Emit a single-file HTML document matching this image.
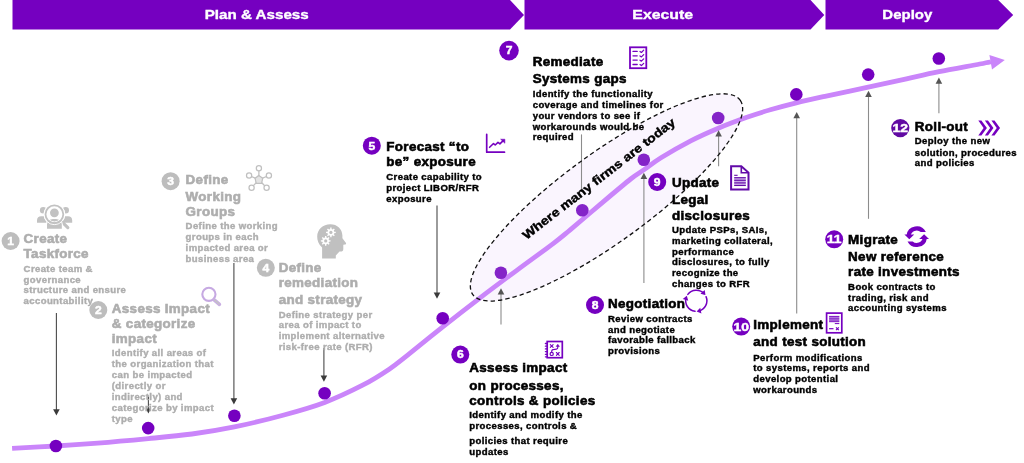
<!DOCTYPE html>
<html lang="en"><head><meta charset="utf-8"><title>LIBOR transition roadmap</title>
<style>
html,body{margin:0;padding:0;background:#fff;}
body{width:1024px;height:463px;overflow:hidden;}
svg{display:block;}
text{font-family:"Liberation Sans",sans-serif;font-weight:bold;}
.bn{font-size:13.2px;fill:#fff;stroke:#fff;stroke-width:.35px;}
.nm{fill:#fff;stroke:#fff;stroke-width:.45px;}
.t{letter-spacing:.31px;font-size:12.6px;stroke-width:.58px;}
.tb{fill:#000;stroke:#000;}
.tg{fill:#AEAEAE;stroke:#AEAEAE;}
.d{letter-spacing:.35px;font-size:8.7px;stroke-width:.38px;}
.db{fill:#000;stroke:#000;}
.dg{fill:#AEAEAE;stroke:#AEAEAE;}
.wh{font-size:12.1px;fill:#000;stroke:#000;stroke-width:.4px;}
</style></head><body>
<svg style="will-change:transform" width="1024" height="463" viewBox="0 0 1024 463">
<polygon points="12.5,0 510,0 524,14.9 510,29.6 12.5,29.6" fill="#7500C0"/>
<polygon points="524.5,0 810.5,0 824.3,14.9 810.5,29.6 524.5,29.6" fill="#7500C0"/>
<polygon points="825.5,0 998.2,0 1013.2,15 998.2,29.6 825.5,29.6" fill="#7500C0"/>
<text class="bn" transform="translate(256.7,19.2) scale(1.15,1)" text-anchor="middle">Plan &amp; Assess</text>
<text class="bn" transform="translate(662.7,19.2) scale(1.2,1)" text-anchor="middle">Execute</text>
<text class="bn" transform="translate(907.3,19.2) scale(1.135,1)" text-anchor="middle">Deploy</text>
<ellipse cx="606.5" cy="197.4" rx="165.3" ry="44.2" transform="rotate(-36.05 606.5 197.4)" fill="#FAF5FE"/>
<path d="M12.1,448.4 C19.4,448.0 41.6,446.9 55.9,446 C70.2,445.1 82.3,444.3 97.7,443.1 C113.1,441.9 132.7,440.1 148.4,438.6 C164.1,437.1 177.7,435.9 192,434.0 C206.3,432.1 219.2,430.0 234.4,426.9 C249.6,423.8 267.9,419.3 283,415.2 C298.1,411.1 311.4,407.4 324.7,402.4 C338.0,397.4 351.9,390.7 362.6,385.2 C373.4,379.7 381.9,374.1 389.2,369.2 C396.5,364.3 397.7,362.9 406.7,355.8 C415.7,348.7 431.2,336.1 443.4,326.4 C455.6,316.7 467.9,307.1 480.1,297.8 C492.3,288.5 504.6,279.4 516.8,270.3 C529.0,261.2 544.6,250.1 553.5,243.3 C562.4,236.6 562.4,236.3 570.2,229.8 C578.0,223.3 590.4,212.6 600.5,204.1 C610.6,195.6 623.5,184.7 630.7,179 C637.9,173.3 638.8,173.4 643.8,169.9 C648.8,166.4 653.1,162.7 661,157.8 C668.9,152.9 681.7,145.5 691.2,140.6 C700.8,135.7 709.0,132.1 718.3,128.2 C727.6,124.3 738.2,120.4 746.9,117.3 C755.6,114.2 762.1,112.2 770.3,109.8 C778.5,107.4 787.2,105.0 796.3,102.8 C805.4,100.5 813.0,98.9 825,96.3 C837.0,93.7 854.6,90.1 868.2,87.2 C881.8,84.3 894.7,81.4 906.5,78.8 C918.3,76.2 926.8,74.2 939,71.7 C951.2,69.2 971.0,65.7 979.7,64 C988.4,62.4 989.1,62.2 991,61.8" fill="none" stroke="#CA85FA" stroke-width="4.8" stroke-linecap="butt"/>
<polygon points="989.4,54.9 1004.8,59.9 992,69.4" fill="#CA85FA"/>
<line x1="581.5" y1="134.4" x2="581.5" y2="192" stroke="#8c8c8c" stroke-width="1.1"/>
<line x1="56.4" y1="313" x2="56.4" y2="410.5" stroke="#4a4a4a" stroke-width="1.1"/>
<polygon points="53.1,409.2 59.699999999999996,409.2 56.4,415.5" fill="#3a3a3a"/>
<line x1="148.4" y1="396.6" x2="148.4" y2="409.4" stroke="#4a4a4a" stroke-width="1.1"/>
<polygon points="145.9,408.4 150.9,408.4 148.4,413.6" fill="#3a3a3a"/>
<line x1="233.9" y1="263" x2="233.9" y2="399.5" stroke="#4a4a4a" stroke-width="1.1"/>
<polygon points="230.6,398.2 237.20000000000002,398.2 233.9,404.5" fill="#3a3a3a"/>
<line x1="323.9" y1="348" x2="323.9" y2="376.7" stroke="#4a4a4a" stroke-width="1.1"/>
<polygon points="320.59999999999997,375.4 327.2,375.4 323.9,381.7" fill="#3a3a3a"/>
<line x1="437" y1="205.6" x2="437" y2="293.7" stroke="#4a4a4a" stroke-width="1.1"/>
<polygon points="433.7,292.4 440.3,292.4 437,298.7" fill="#3a3a3a"/>
<line x1="501" y1="324.6" x2="501" y2="293.2" stroke="#8c8c8c" stroke-width="1.1"/>
<polygon points="497.7,294.5 504.3,294.5 501,288.2" fill="#555"/>
<line x1="643.9" y1="283" x2="643.9" y2="177.8" stroke="#8c8c8c" stroke-width="1.1"/>
<polygon points="640.6,179.1 647.1999999999999,179.1 643.9,172.8" fill="#555"/>
<line x1="718.6" y1="166.3" x2="718.6" y2="135.3" stroke="#8c8c8c" stroke-width="1.1"/>
<polygon points="715.3000000000001,136.6 721.9,136.6 718.6,130.3" fill="#555"/>
<line x1="796.7" y1="313.6" x2="796.7" y2="117.0" stroke="#8c8c8c" stroke-width="1.1"/>
<polygon points="793.4000000000001,118.3 800.0,118.3 796.7,112" fill="#555"/>
<line x1="868.5" y1="218.8" x2="868.5" y2="95.8" stroke="#8c8c8c" stroke-width="1.1"/>
<polygon points="865.2,97.1 871.8,97.1 868.5,90.8" fill="#555"/>
<line x1="938.9" y1="113.3" x2="938.9" y2="82.5" stroke="#8c8c8c" stroke-width="1.1"/>
<polygon points="935.6,83.8 942.1999999999999,83.8 938.9,77.5" fill="#555"/>
<circle cx="55.9" cy="446" r="6.3" fill="#7500C0"/>
<circle cx="148.2" cy="428.1" r="6.3" fill="#7500C0"/>
<circle cx="234.4" cy="415.7" r="6.3" fill="#7500C0"/>
<circle cx="324.6" cy="393.3" r="6.3" fill="#7500C0"/>
<circle cx="442.7" cy="318.2" r="6.3" fill="#7500C0"/>
<circle cx="500.9" cy="272.8" r="6.3" fill="#8424C8"/>
<circle cx="582.3" cy="210.2" r="6.3" fill="#8424C8"/>
<circle cx="643.8" cy="159.7" r="6.3" fill="#8424C8"/>
<circle cx="718.2" cy="118" r="6.3" fill="#8424C8"/>
<circle cx="796.3" cy="94.4" r="6.3" fill="#7500C0"/>
<circle cx="868.2" cy="74.6" r="6.3" fill="#7500C0"/>
<circle cx="938.8" cy="58.5" r="6.3" fill="#7500C0"/>
<ellipse cx="606.5" cy="197.4" rx="165.3" ry="44.2" transform="rotate(-36.05 606.5 197.4)" fill="none" stroke="#111" stroke-width="1.3" stroke-dasharray="4.4 3"/>
<text class="wh" transform="translate(526.5,240) rotate(-37.8) scale(1.17,1)">Where many firms are today</text>
<circle cx="10.6" cy="241" r="9.0" fill="#BDBDBD"/>
<text class="nm" transform="translate(10.6,244.8) scale(1.12,1)" text-anchor="middle" font-size="10.8">1</text>
<text class="t tg" transform="translate(23.6,243.4) scale(1.065,1)">Create</text>
<text class="t tg" transform="translate(23.6,258) scale(1.065,1)">Taskforce</text>
<text class="d dg" transform="translate(23.6,271.8) scale(1.1,1)">Create team &amp;</text>
<text class="d dg" transform="translate(23.6,282.6) scale(1.1,1)">governance</text>
<text class="d dg" transform="translate(23.6,292.8) scale(1.1,1)">structure and ensure</text>
<text class="d dg" transform="translate(23.6,303.6) scale(1.1,1)">accountability</text>
<circle cx="98.3" cy="310.0" r="9.0" fill="#BDBDBD"/>
<text class="nm" transform="translate(98.3,313.8) scale(1.12,1)" text-anchor="middle" font-size="10.8">2</text>
<text class="t tg" transform="translate(111.8,313) scale(1.065,1)">Assess Impact</text>
<text class="t tg" transform="translate(111.8,328) scale(1.065,1)">&amp; categorize</text>
<text class="t tg" transform="translate(111.8,342.6) scale(1.065,1)">impact</text>
<text class="d dg" transform="translate(111.8,356.2) scale(1.1,1)">Identify all areas of</text>
<text class="d dg" transform="translate(111.8,367.3) scale(1.1,1)">the organization that</text>
<text class="d dg" transform="translate(111.8,378.3) scale(1.1,1)">can be impacted</text>
<text class="d dg" transform="translate(111.8,389.3) scale(1.1,1)">(directly or</text>
<text class="d dg" transform="translate(111.8,400.2) scale(1.1,1)">indirectly) and</text>
<text class="d dg" transform="translate(111.8,411) scale(1.1,1)">categorize by impact</text>
<text class="d dg" transform="translate(111.8,422) scale(1.1,1)">type</text>
<circle cx="170.6" cy="181.2" r="9.0" fill="#BDBDBD"/>
<text class="nm" transform="translate(170.6,185.0) scale(1.12,1)" text-anchor="middle" font-size="10.8">3</text>
<text class="t tg" transform="translate(185.6,184) scale(1.065,1)">Define</text>
<text class="t tg" transform="translate(185.6,201.2) scale(1.065,1)">Working</text>
<text class="t tg" transform="translate(185.6,215.6) scale(1.065,1)">Groups</text>
<text class="d dg" transform="translate(185.6,229.3) scale(1.1,1)">Define the working</text>
<text class="d dg" transform="translate(185.6,240.2) scale(1.1,1)">groups in each</text>
<text class="d dg" transform="translate(185.6,250.9) scale(1.1,1)">impacted area or</text>
<text class="d dg" transform="translate(185.6,261.5) scale(1.1,1)">business area</text>
<circle cx="265.8" cy="267.8" r="9.0" fill="#BDBDBD"/>
<text class="nm" transform="translate(265.8,271.6) scale(1.12,1)" text-anchor="middle" font-size="10.8">4</text>
<text class="t tg" transform="translate(278.7,271.6) scale(1.065,1)">Define</text>
<text class="t tg" transform="translate(278.7,287.2) scale(1.065,1)">remediation</text>
<text class="t tg" transform="translate(278.7,304.2) scale(1.065,1)">and strategy</text>
<text class="d dg" transform="translate(278.7,317.8) scale(1.1,1)">Define strategy per</text>
<text class="d dg" transform="translate(278.7,328.3) scale(1.1,1)">area of impact to</text>
<text class="d dg" transform="translate(278.7,339.1) scale(1.1,1)">implement alternative</text>
<text class="d dg" transform="translate(278.7,349.9) scale(1.1,1)">risk-free rate (RFR)</text>
<circle cx="371.8" cy="145.7" r="9.0" fill="#7500C0"/>
<text class="nm" transform="translate(371.8,149.5) scale(1.12,1)" text-anchor="middle" font-size="10.8">5</text>
<text class="t tb" transform="translate(386.3,150.9) scale(1.065,1)">Forecast “to</text>
<text class="t tb" transform="translate(386.3,166.4) scale(1.065,1)">be” exposure</text>
<text class="d db" transform="translate(386.3,179.6) scale(1.1,1)">Create capability to</text>
<text class="d db" transform="translate(386.3,190.5) scale(1.1,1)">project LIBOR/RFR</text>
<text class="d db" transform="translate(386.3,201.8) scale(1.1,1)">exposure</text>
<circle cx="460.3" cy="354.6" r="9.0" fill="#7500C0"/>
<text class="nm" transform="translate(460.3,358.4) scale(1.12,1)" text-anchor="middle" font-size="10.8">6</text>
<text class="t tb" transform="translate(469.3,372.3) scale(1.065,1)">Assess impact</text>
<text class="t tb" transform="translate(469.3,389.6) scale(1.065,1)">on processes,</text>
<text class="t tb" transform="translate(469.3,404.7) scale(1.065,1)">controls &amp; policies</text>
<text class="d db" transform="translate(469.3,417.7) scale(1.1,1)">Identify and modify the</text>
<text class="d db" transform="translate(469.3,428.9) scale(1.1,1)">processes, controls &amp;</text>
<text class="d db" transform="translate(469.3,444) scale(1.1,1)">policies that require</text>
<text class="d db" transform="translate(469.3,455) scale(1.1,1)">updates</text>
<circle cx="509" cy="50.6" r="9.8" fill="#7500C0"/>
<text class="nm" transform="translate(509,54.4) scale(1.12,1)" text-anchor="middle" font-size="10.8">7</text>
<text class="t tb" transform="translate(532.7,65.7) scale(1.065,1)">Remediate</text>
<text class="t tb" transform="translate(532.7,82.6) scale(1.065,1)">Systems gaps</text>
<text class="d db" transform="translate(532.7,97.2) scale(1.1,1)">Identify the functionality</text>
<text class="d db" transform="translate(532.7,107.9) scale(1.1,1)">coverage and timelines for</text>
<text class="d db" transform="translate(532.7,118.7) scale(1.1,1)">your vendors to see if</text>
<text class="d db" transform="translate(532.7,129.5) scale(1.1,1)">workarounds would be</text>
<text class="d db" transform="translate(532.7,140) scale(1.1,1)">required</text>
<circle cx="595" cy="305" r="9.0" fill="#7500C0"/>
<text class="nm" transform="translate(595,308.8) scale(1.12,1)" text-anchor="middle" font-size="10.8">8</text>
<text class="t tb" transform="translate(608,308.3) scale(1.065,1)">Negotiation</text>
<text class="d db" transform="translate(608,322) scale(1.1,1)">Review contracts</text>
<text class="d db" transform="translate(608,332.6) scale(1.1,1)">and negotiate</text>
<text class="d db" transform="translate(608,343.3) scale(1.1,1)">favorable fallback</text>
<text class="d db" transform="translate(608,353.9) scale(1.1,1)">provisions</text>
<circle cx="657.2" cy="182" r="9.0" fill="#7500C0"/>
<text class="nm" transform="translate(657.2,185.8) scale(1.12,1)" text-anchor="middle" font-size="10.8">9</text>
<text class="t tb" transform="translate(672,187.3) scale(1.065,1)">Update</text>
<text class="t tb" transform="translate(672,204.3) scale(1.065,1)">Legal</text>
<text class="t tb" transform="translate(672,220) scale(1.065,1)">disclosures</text>
<text class="d db" transform="translate(672,233.3) scale(1.1,1)">Update PSPs, SAIs,</text>
<text class="d db" transform="translate(672,244) scale(1.1,1)">marketing collateral,</text>
<text class="d db" transform="translate(672,254.6) scale(1.1,1)">performance</text>
<text class="d db" transform="translate(672,265.3) scale(1.1,1)">disclosures, to fully</text>
<text class="d db" transform="translate(672,276) scale(1.1,1)">recognize the</text>
<text class="d db" transform="translate(672,287) scale(1.1,1)">changes to RFR</text>
<circle cx="741.2" cy="326.6" r="9.0" fill="#7500C0"/>
<text class="nm" transform="translate(741.2,330.7) scale(1.2,1)" text-anchor="middle" font-size="11.6">10</text>
<text class="t tb" transform="translate(753.3,328.6) scale(1.065,1)">Implement</text>
<text class="t tb" transform="translate(753.3,345.9) scale(1.065,1)">and test solution</text>
<text class="d db" transform="translate(753.3,360.5) scale(1.1,1)">Perform modifications</text>
<text class="d db" transform="translate(753.3,371.4) scale(1.1,1)">to systems, reports and</text>
<text class="d db" transform="translate(753.3,382.3) scale(1.1,1)">develop potential</text>
<text class="d db" transform="translate(753.3,392.9) scale(1.1,1)">workarounds</text>
<circle cx="834.2" cy="239.3" r="9.0" fill="#7500C0"/>
<text class="nm" transform="translate(834.2,243.4) scale(1.2,1)" text-anchor="middle" font-size="11.6">11</text>
<text class="t tb" transform="translate(848.1,243.7) scale(1.065,1)">Migrate</text>
<text class="t tb" transform="translate(848.1,260.5) scale(1.065,1)">New reference</text>
<text class="t tb" transform="translate(848.1,275.6) scale(1.065,1)">rate investments</text>
<text class="d db" transform="translate(848.1,289.9) scale(1.1,1)">Book contracts to</text>
<text class="d db" transform="translate(848.1,300.5) scale(1.1,1)">trading, risk and</text>
<text class="d db" transform="translate(848.1,311) scale(1.1,1)">accounting systems</text>
<circle cx="900.3" cy="128.1" r="9.1" fill="#610AA3"/>
<text class="nm" transform="translate(900.3,132.2) scale(1.2,1)" text-anchor="middle" font-size="11.6">12</text>
<text class="t tb" transform="translate(914.8,130.8) scale(1.065,1)">Roll-out</text>
<text class="d db" transform="translate(914.8,144.4) scale(1.1,1)">Deploy the new</text>
<text class="d db" transform="translate(914.8,155.5) scale(1.1,1)">solution, procedures</text>
<text class="d db" transform="translate(914.8,166.2) scale(1.1,1)">and policies</text>
<g fill="#C2C2C2">
<circle cx="43.2" cy="210.2" r="3.3"/><path d="M37,222.7 v-2.5 a4.2,4.2 0 0 1 4.2,-4 h3 a4,4 0 0 1 2.5,1 v5.5z"/>
<circle cx="65.7" cy="210.2" r="3.3"/><path d="M72.2,222.7 v-2.5 a4.2,4.2 0 0 0 -4.2,-4 h-3 a4,4 0 0 0 -2.5,1 v5.5z"/>
<circle cx="54.4" cy="214.3" r="10.8" fill="#fff"/>
</g>
<line x1="61.8" y1="221.6" x2="67.8" y2="227.6" stroke="#C2C2C2" stroke-width="3.2" stroke-linecap="round"/>
<path d="M46,229.6 v-5 a6.6,6.6 0 0 1 6.6,-6.4 h3.6 a6.6,6.6 0 0 1 6.6,6.4 v5z" fill="#fff"/>
<g fill="#C2C2C2"><circle cx="54.4" cy="212.8" r="4.4"/>
<path d="M47,228.8 v-4.3 a5.8,5.8 0 0 1 5.8,-5.5 h3.2 a5.8,5.8 0 0 1 5.8,5.5 v4.3z"/></g>
<circle cx="54.4" cy="214.3" r="10.3" fill="none" stroke="#fff" stroke-width="1"/>
<circle cx="54.4" cy="214.3" r="7.6" fill="none" stroke="#fff" stroke-width=".9"/>
<circle cx="54.4" cy="214.3" r="8.9" fill="none" stroke="#C2C2C2" stroke-width="1.8"/>
<circle cx="208.9" cy="294.3" r="6.6" fill="none" stroke="#C6A9E2" stroke-width="2.1"/>
<line x1="214.2" y1="299.8" x2="219.4" y2="304.4" stroke="#C9AEE3" stroke-width="3.6" stroke-linecap="round"/>
<line x1="214.6" y1="300.1" x2="219.1" y2="304.1" stroke="#C4C4C4" stroke-width="1.4" stroke-linecap="round"/>
<g fill="#fff" stroke="#C0C0C0" stroke-width="1.25"><line x1="258.9" y1="179.7" x2="258.9" y2="168.3"/><line x1="258.9" y1="179.7" x2="249.1" y2="175.5"/><line x1="258.9" y1="179.7" x2="268.9" y2="175.5"/><line x1="258.9" y1="179.7" x2="251.6" y2="187.7"/><line x1="258.9" y1="179.7" x2="266.6" y2="187.7"/><circle cx="258.9" cy="168.3" r="2.6"/><circle cx="249.1" cy="175.5" r="2.6"/><circle cx="268.9" cy="175.5" r="2.6"/><circle cx="251.6" cy="187.7" r="2.6"/><circle cx="266.6" cy="187.7" r="2.6"/><path d="M258.9,175.39999999999998 l3.8,2.9 l-1.1,5 h-5.4 l-1.1,-5z" fill="#E4E4E4"/></g>
<path d="M322.1,258.4 V247.5 C318.5,244.5 317.2,240.5 317.2,236.8 C317.2,229.5 323,224.3 330.2,224.3 C337.5,224.3 342.2,229.2 342.4,235.5 C342.5,236.8 342.2,237.6 342.6,238.4 L346,243 C346.3,243.8 345.8,244.4 345,244.5 L343.3,244.7 V249 C343.3,250.8 342.3,251.6 340.6,251.6 H339.5 L335.8,255.6 V258.4 Z" fill="#C0C0C0"/>
<path d="M334.22,231.66L335.75,231.71L335.75,233.09L334.22,233.14L333.77,234.22L334.82,235.34L333.84,236.32L332.72,235.27L331.64,235.72L331.59,237.25L330.21,237.25L330.16,235.72L329.08,235.27L327.96,236.32L326.98,235.34L328.03,234.22L327.58,233.14L326.05,233.09L326.05,231.71L327.58,231.66L328.03,230.58L326.98,229.46L327.96,228.48L329.08,229.53L330.16,229.08L330.21,227.55L331.59,227.55L331.64,229.08L332.72,229.53L333.84,228.48L334.82,229.46L333.77,230.58Z" fill="#fff"/><circle cx="330.9" cy="232.4" r="1.6" fill="#C0C0C0"/><path d="M329.02,240.16L330.55,240.21L330.55,241.59L329.02,241.64L328.57,242.72L329.62,243.84L328.64,244.82L327.52,243.77L326.44,244.22L326.39,245.75L325.01,245.75L324.96,244.22L323.88,243.77L322.76,244.82L321.78,243.84L322.83,242.72L322.38,241.64L320.85,241.59L320.85,240.21L322.38,240.16L322.83,239.08L321.78,237.96L322.76,236.98L323.88,238.03L324.96,237.58L325.01,236.05L326.39,236.05L326.44,237.58L327.52,238.03L328.64,236.98L329.62,237.96L328.57,239.08Z" fill="#fff"/><circle cx="325.7" cy="240.9" r="1.6" fill="#C0C0C0"/>
<g fill="none" stroke="#7500C0" stroke-width="1.7" stroke-linecap="round" stroke-linejoin="round">
<path d="M486.7,134.4 V152.2 H504.5"/>
<path d="M489.6,147.3 L493.5,143.5 L495.2,145 L498,142.4 L499.9,143.9 L503.2,140.6" stroke-width="1.6"/>
</g><path d="M500.6,139.2 H504.9 V143.3 Z" fill="#7500C0" stroke="#7500C0" stroke-width=".5" stroke-linejoin="round"/>
<g fill="none" stroke="#7500C0" stroke-linecap="round">
<rect x="547.2" y="341.5" width="15.1" height="16.2" stroke-width="1.7"/>
<path d="M545.4,343.5 h1.5 M545.4,346.2 h1.5 M545.4,348.9 h1.5 M545.4,351.6 h1.5 M545.4,354.3 h1.5 M545.4,356.8 h1.5" stroke-width="1.3"/>
<path d="M550.3,344.6 l2.8,2.8 m0,-2.8 l-2.8,2.8" stroke-width="1.1"/>
<path d="M556.4,352.5 l2.8,2.8 m0,-2.8 l-2.8,2.8" stroke-width="1.1"/>
<circle cx="551.7" cy="353.9" r="1.6" stroke-width="1.2"/>
<path d="M551.7,352.2 V351.2 C551.7,349.5 552.8,349.4 554.8,349.4 C556.8,349.4 557.8,349.2 557.8,347.5 V346" stroke-width="1.1"/>
</g><path d="M556.2,346.4 L557.8,344.3 L559.4,346.4Z" fill="#7500C0" stroke="#7500C0" stroke-width=".6" stroke-linejoin="round"/>
<g fill="none" stroke="#7500C0" stroke-linecap="round" stroke-linejoin="round"><rect x="630" y="47.3" width="16.3" height="20.9" stroke-width="1.8" stroke-linejoin="miter"/><path d="M633,51.4 h4.2" stroke-width="1.3"/><path d="M640,51.5 l1.4,1 l2.3,-2.3" stroke-width="1.2"/><path d="M633,55.8 h4.2" stroke-width="1.3"/><path d="M640,55.9 l1.4,1 l2.3,-2.3" stroke-width="1.2"/><path d="M633,60.1 h4.2" stroke-width="1.3"/><path d="M640,60.2 l1.4,1 l2.3,-2.3" stroke-width="1.2"/><path d="M633,64.5 h4.2" stroke-width="1.3"/><path d="M640,64.6 l1.4,1 l2.3,-2.3" stroke-width="1.2"/></g>
<g fill="none" stroke="#7500C0" stroke-width="1.5" stroke-linecap="round"><path d="M687.83,294.42 A10.6,10.6 0 0 1 704.18,293.71"/><path d="M706.06,296.66 A10.6,10.6 0 0 1 698.50,311.17"/><path d="M695.01,311.32 A10.6,10.6 0 0 1 686.22,297.52"/></g><path d="M705.45,295.12 L704.73,289.98 L700.42,293.86Z" fill="#7500C0"/><path d="M696.65,311.56 L701.45,313.51 L700.25,307.83Z" fill="#7500C0"/><path d="M686.81,295.72 L682.72,298.91 L688.24,300.70Z" fill="#7500C0"/>
<path d="M731.1,166.2 H741.3 L748.5,172.6 V189.5 H731.1Z" fill="#fff" stroke="#620AA8" stroke-width="2" stroke-linejoin="miter"/>
<path d="M741.3,166.2 V172.8 H748.5" fill="none" stroke="#620AA8" stroke-width="1.6"/>
<rect x="734.2" y="177.2" width="11.6" height="8.8" fill="#C9A7E6"/>
<path d="M734.2,175.3 h3.4" stroke="#620AA8" stroke-width="1.1"/><path d="M734.2,177.7 h11.6" stroke="#620AA8" stroke-width="1.1"/><path d="M734.2,180.3 h11.6" stroke="#620AA8" stroke-width="1.1"/><path d="M734.2,182.9 h11.6" stroke="#620AA8" stroke-width="1.1"/><path d="M734.2,185.5 h11.6" stroke="#620AA8" stroke-width="1.1"/>
<rect x="826.6" y="313.1" width="15.2" height="19.7" fill="#fff" stroke="#7500C0" stroke-width="1.7"/>
<rect x="829.1" y="316" width="10.2" height="6" fill="#C9A7E6"/><path d="M829.1,316.4 h10.2" stroke="#7500C0" stroke-width=".9"/><path d="M829.1,318.2 h10.2" stroke="#7500C0" stroke-width=".9"/><path d="M829.1,320 h10.2" stroke="#7500C0" stroke-width=".9"/><path d="M829.1,321.7 h10.2" stroke="#7500C0" stroke-width=".9"/><path d="M834.8,323.6 h4.5" stroke="#7500C0" stroke-width="1"/><path d="M829.1,328.7 h4.4" stroke="#7500C0" stroke-width="1.2"/><path d="M836,327.3 l2.8,2.8 m0,-2.8 l-2.8,2.8" stroke="#7500C0" stroke-width="1.2"/>
<g fill="#7500C0"><path d="M925.87,232.00 A10.3,10.3 0 0 0 906.50,235.27 L910.56,235.84 A6.2,6.2 0 0 1 920.74,232.00Z"/><path d="M904.4,234.4 H914.2 L909.3,239.2Z"/><path d="M907.53,241.40 A10.3,10.3 0 0 0 926.90,238.13 L922.84,237.56 A6.2,6.2 0 0 1 912.66,241.40Z"/><path d="M929,239 H919.2 L924.1,234.2Z"/></g>
<g fill="#7500C0"><path d="M978.30,120.6 h3.1 l5.5,7.5 l-5.5,7.4 h-3.1 l5.3,-7.4z"/><path d="M984.86,120.6 h3.1 l5.5,7.5 l-5.5,7.4 h-3.1 l5.3,-7.4z"/><path d="M991.42,120.6 h3.1 l5.5,7.5 l-5.5,7.4 h-3.1 l5.3,-7.4z"/></g>
</svg>
</body></html>
